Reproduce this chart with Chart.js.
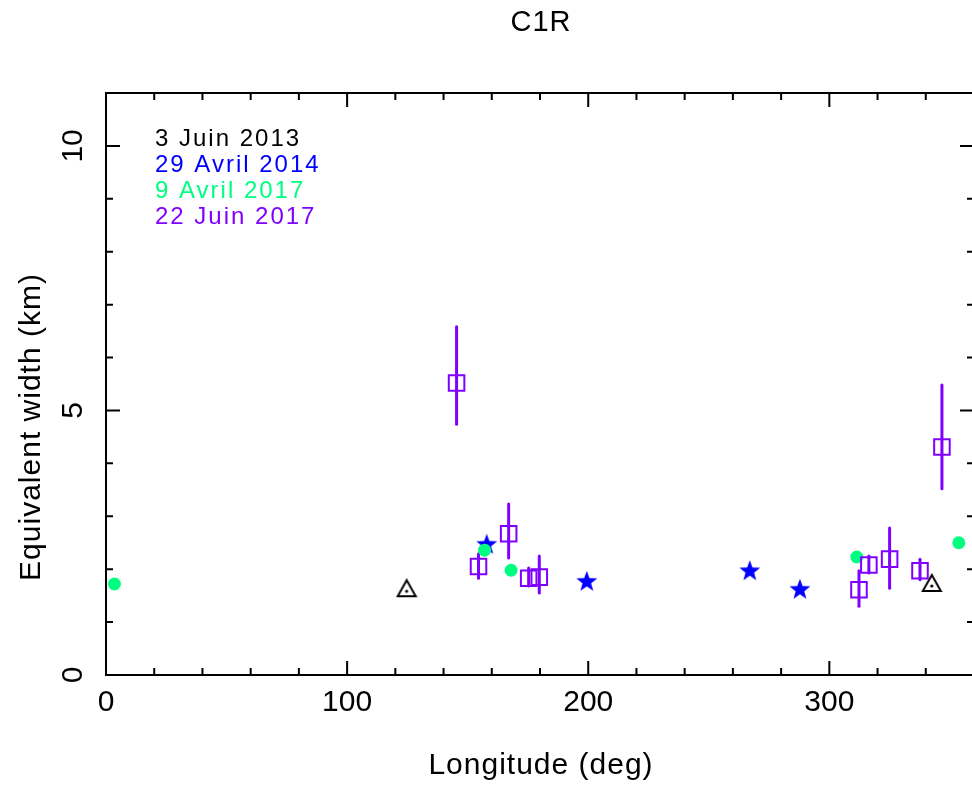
<!DOCTYPE html>
<html>
<head>
<meta charset="utf-8">
<script src="https://cdn.jsdelivr.net/npm/chart.js@4.4.1/dist/chart.umd.min.js"></script>
<style>
  html, body { margin: 0; padding: 0; background: #fff; overflow: hidden; }
  #wrap { position: absolute; left: 0; top: 0; width: 975px; height: 787px; }
</style>
</head>
<body>
<div id="wrap"><canvas id="chart" width="975" height="787"></canvas></div>
<script>
// 3 Juin 2013
const juin2013Lon = [124.7, 342.5];
const juin2013W = [1.64, 1.74];
// 29 Avril 2014
const avril2014Lon = [157.9, 199.4, 267.0, 287.8];
const avril2014W = [2.48, 1.78, 1.98, 1.63];
// 9 Avril 2017
const avril2017Lon = [3.5, 157.0, 168.0, 311.4, 353.7];
const avril2017W = [1.72, 2.36, 1.98, 2.23, 2.50];
// 22 Juin 2017 (with error bars)
const juin2017Lon = [145.4, 154.5, 167.0, 175.3, 179.7, 312.3, 316.4, 325.0, 337.6, 346.7];
const juin2017W = [5.52, 2.05, 2.67, 1.83, 1.85, 1.61, 2.08, 2.19, 1.97, 4.31];
const juin2017Low = [4.74, 1.83, 2.21, 1.68, 1.55, 1.30, 1.93, 1.64, 1.80, 3.52];
const juin2017High = [6.58, 2.29, 3.23, 2.02, 2.25, 1.97, 2.25, 2.78, 2.19, 5.48];

const xTickLabels = [0, 100, 200, 300];
const yTickLabels = [0, 5, 10];
const legendLabels = ['3 Juin 2013', '29 Avril 2014', '9 Avril 2017', '22 Juin 2017'];
const legendColors = ['#000000', '#0000ff', '#00ff80', '#8000ff'];

const FONT = '"Liberation Sans", Arial, sans-serif';

function toPoints(xs, ys) {
  return xs.map((x, i) => ({ x: x, y: ys[i] }));
}

// filled five point star marker
function makeStar(color) {
  const c = document.createElement('canvas');
  c.width = 24; c.height = 24;
  const g = c.getContext('2d');
  g.fillStyle = color;
  g.beginPath();
  for (let i = 0; i < 10; i++) {
    const r = i % 2 === 0 ? 11 : 4.5;
    const a = -Math.PI / 2 + i * Math.PI / 5;
    const px = 12 + r * Math.cos(a), py = 13 + r * Math.sin(a);
    if (i === 0) g.moveTo(px, py); else g.lineTo(px, py);
  }
  g.closePath();
  g.fill();
  return c;
}

// open triangle with a dot in the middle
function makeTriangle() {
  const c = document.createElement('canvas');
  c.width = 22; c.height = 20;
  const g = c.getContext('2d');
  g.strokeStyle = '#000';
  g.lineWidth = 2;
  g.beginPath();
  g.moveTo(11, 2);
  g.lineTo(20, 18);
  g.lineTo(2, 18);
  g.closePath();
  g.stroke();
  g.fillStyle = '#000';
  g.beginPath();
  g.arc(11, 13, 1.6, 0, Math.PI * 2);
  g.fill();
  return c;
}

const errorBars = {
  id: 'errorBars',
  beforeDatasetsDraw(chart) {
    const ctx = chart.ctx;
    const xs = chart.scales.x, ys = chart.scales.y;
    ctx.save();
    ctx.strokeStyle = '#8000ff';
    ctx.lineWidth = 3;
    ctx.lineCap = 'round';
    juin2017Lon.forEach((lon, i) => {
      const px = xs.getPixelForValue(lon);
      ctx.beginPath();
      ctx.moveTo(px, ys.getPixelForValue(juin2017Low[i]));
      ctx.lineTo(px, ys.getPixelForValue(juin2017High[i]));
      ctx.stroke();
    });
    ctx.restore();
  }
};

const frameAndText = {
  id: 'frameAndText',
  afterDraw(chart) {
    const ctx = chart.ctx;
    const xs = chart.scales.x, ys = chart.scales.y;
    const a = chart.chartArea;
    ctx.save();
    ctx.strokeStyle = '#000';
    ctx.lineWidth = 2;
    ctx.strokeRect(a.left, a.top, a.right - a.left, a.bottom - a.top);

    // inward ticks on all four sides
    ctx.lineWidth = 2;
    for (let v = 0; v <= 360; v += 20) {
      const px = xs.getPixelForValue(v);
      const len = v % 100 === 0 ? 14 : 7;
      ctx.beginPath();
      ctx.moveTo(px, a.bottom); ctx.lineTo(px, a.bottom - len);
      ctx.moveTo(px, a.top); ctx.lineTo(px, a.top + len);
      ctx.stroke();
    }
    for (let v = 0; v <= 11; v += 1) {
      const py = ys.getPixelForValue(v);
      const len = v % 5 === 0 ? 14 : 7;
      ctx.beginPath();
      ctx.moveTo(a.left, py); ctx.lineTo(a.left + len, py);
      ctx.moveTo(a.right, py); ctx.lineTo(a.right - len, py);
      ctx.stroke();
    }

    ctx.fillStyle = '#000';
    ctx.textAlign = 'center';
    ctx.textBaseline = 'middle';
    ctx.font = '30px ' + FONT;
    xTickLabels.forEach(v => {
      ctx.fillText(String(v), xs.getPixelForValue(v), 703);
    });
    yTickLabels.forEach(v => {
      ctx.save();
      ctx.translate(74, ys.getPixelForValue(v));
      ctx.rotate(-Math.PI / 2);
      ctx.fillText(String(v), 0, 0);
      ctx.restore();
    });

    // axis titles and title
    ctx.font = '30px ' + FONT;
    ctx.letterSpacing = '1px';
    ctx.fillText('Longitude (deg)', 541, 766);
    ctx.save();
    ctx.translate(32, 427);
    ctx.rotate(-Math.PI / 2);
    ctx.fillText('Equivalent width (km)', 0, 0);
    ctx.restore();
    ctx.font = '29px ' + FONT;
    ctx.fillText('C1R', 541, 23);

    // legend text
    ctx.font = '24px ' + FONT;
    ctx.letterSpacing = '2px';
    ctx.textAlign = 'left';
    legendLabels.forEach((t, i) => {
      ctx.fillStyle = legendColors[i];
      ctx.fillText(t, 155, 139 + i * 26);
    });
    ctx.restore();
  }
};

new Chart(document.getElementById('chart'), {
  type: 'scatter',
  data: {
    datasets: [
      {
        label: legendLabels[3],
        data: toPoints(juin2017Lon, juin2017W),
        pointStyle: 'rect',
        pointRadius: 11,
        backgroundColor: 'rgba(0,0,0,0)',
        borderColor: '#8000ff',
        borderWidth: 2
      },
      {
        label: legendLabels[2],
        data: toPoints(avril2017Lon, avril2017W),
        pointStyle: 'circle',
        pointRadius: 6.5,
        backgroundColor: '#00ff80',
        borderColor: '#00ff80',
        borderWidth: 0
      },
      {
        label: legendLabels[1],
        data: toPoints(avril2014Lon, avril2014W),
        pointStyle: makeStar('#0000ff'),
        backgroundColor: '#0000ff',
        borderColor: '#0000ff'
      },
      {
        label: legendLabels[0],
        data: toPoints(juin2013Lon, juin2013W),
        pointStyle: makeTriangle(),
        backgroundColor: '#000',
        borderColor: '#000'
      }
    ]
  },
  options: {
    responsive: false,
    animation: false,
    layout: { autoPadding: false, padding: { left: 106, right: 1, top: 93, bottom: 112 } },
    plugins: { legend: { display: false }, tooltip: { enabled: false } },
    scales: {
      x: { type: 'linear', min: 0, max: 360, display: false },
      y: { type: 'linear', min: 0, max: 11, display: false }
    }
  },
  plugins: [errorBars, frameAndText]
});
</script>
</body>
</html>
